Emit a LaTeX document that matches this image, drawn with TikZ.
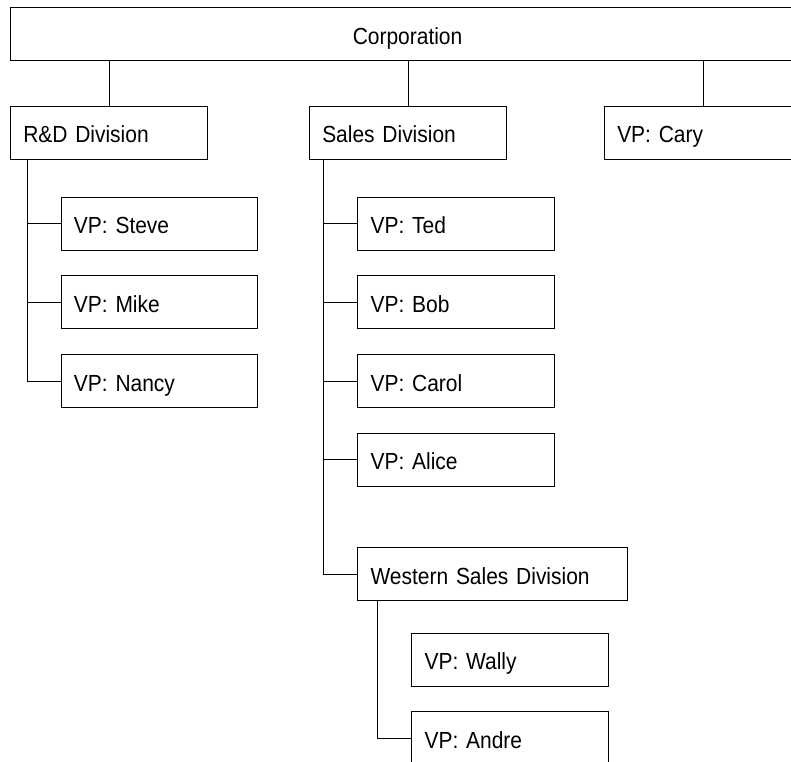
\documentclass[tikz,border=0pt]{standalone}
\usepackage{fontspec}
\setmainfont{Liberation Sans}[FakeStretch=0.9]
\begin{document}
\begin{tikzpicture}[x=1pt,y=-1pt,
  box/.style={draw=black, line width=1.1pt, rectangle, anchor=north west,
    minimum height=53pt, inner xsep=12.7pt, inner ysep=0pt,
    text height=20.4pt, text depth=0pt, align=left,
    font=\fontsize{23.3}{28}\selectfont},
  link/.style={draw=black, line width=1.1pt}]
\useasboundingbox (0,0) rectangle (791,761);
\clip (0,0) rectangle (791,761);
% top level
\node[box, text width=768.6pt, align=center] (corp) at (10,7) {Corporation};
% divisions
\node[box, text width=171.6pt] (rd) at (10,105.5) {R\&D Division};
\node[box, text width=171.6pt] (sales) at (309,105.5) {Sales Division};
\node[box, text width=171.6pt] (cary) at (604,105.5) {VP: Cary};
% R&D children
\node[box, text width=171.2pt] (steve) at (60.7,196.5) {VP: Steve};
\node[box, text width=171.2pt] (mike) at (60.7,275) {VP: Mike};
\node[box, text width=171.2pt] (nancy) at (60.7,354) {VP: Nancy};
% Sales children
\node[box, text width=171.3pt] (ted) at (357.3,196.5) {VP: Ted};
\node[box, text width=171.3pt] (bob) at (357.3,275) {VP: Bob};
\node[box, text width=171.3pt] (carol) at (357.3,354) {VP: Carol};
\node[box, text width=171.3pt] (alice) at (357.3,432.5) {VP: Alice};
\node[box, text width=244pt] (western) at (357.3,547) {Western Sales Division};
% Western children
\node[box, text width=171.6pt] (wally) at (411.3,632.5) {VP: Wally};
\node[box, text width=171.6pt] (andre) at (411.3,711) {VP: Andre};
% connectors from corporation
\draw[link] (rd.north) -- (rd.north |- corp.south);
\draw[link] (sales.north) -- (sales.north |- corp.south);
\draw[link] (cary.north) -- (cary.north |- corp.south);
% R&D trunk
\coordinate (rdt) at ([xshift=17.3pt]rd.south west);
\draw[link] (rdt) |- (nancy.west);
\draw[link] (steve.west) -- (steve.west -| rdt);
\draw[link] (mike.west) -- (mike.west -| rdt);
% Sales trunk
\coordinate (st) at ([xshift=14.3pt]sales.south west);
\draw[link] (st) |- (western.west);
\draw[link] (ted.west) -- (ted.west -| st);
\draw[link] (bob.west) -- (bob.west -| st);
\draw[link] (carol.west) -- (carol.west -| st);
\draw[link] (alice.west) -- (alice.west -| st);
% Western trunk
\coordinate (wt) at ([xshift=20.4pt]western.south west);
\draw[link] (wt) |- (andre.west);
\end{tikzpicture}
\end{document}
